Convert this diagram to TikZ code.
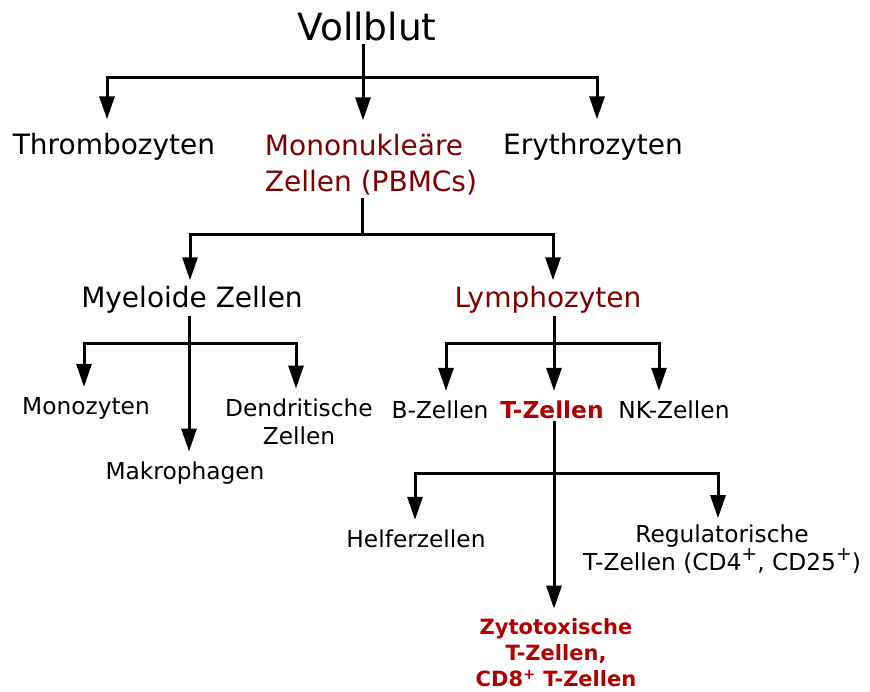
\documentclass[tikz,border=0pt]{standalone}
\usepackage{fontspec}
\setmainfont{DejaVu Sans}
\usetikzlibrary{arrows.meta}
\definecolor{dunkelrot}{RGB}{128,0,0}
\definecolor{hellrot}{RGB}{176,0,0}
\newcommand{\hoch}[1]{\raisebox{0.42em}{\fontsize{19}{19}\selectfont #1}}

\begin{document}
\begin{tikzpicture}[x=1pt,y=-1pt,
		lbl/.style={inner sep=2pt, align=center},
		big/.style={lbl, font=\fontsize{37.5}{40}\selectfont},
		mid/.style={lbl, font=\fontsize{28}{36}\selectfont},
		small/.style={lbl, font=\fontsize{23.3}{28.5}\selectfont},
		tiny/.style={lbl, font=\fontsize{21}{26}\selectfont\bfseries, text=hellrot},
		conn/.style={line width=3pt},
		arr/.style={conn, -{Triangle[length=23pt,width=15pt]}, shorten >=#1},
		arr/.default=8pt]
		\useasboundingbox (0,0) rectangle (870,691);

		\node[big] (blut) at (367,27) {Vollblut};
		\node[mid] (thromb) at (114,147) {Thrombozyten};
		\node[mid, align=left, text=dunkelrot] (pbmc) at (371,165) {Mononukleäre\\Zellen (PBMCs)};
		\node[mid] (ery) at (593,147) {Erythrozyten};

		\node[mid] (myelo) at (192,300) {Myeloide Zellen};
		\node[mid, text=dunkelrot] (lympho) at (548,300) {Lymphozyten};

		\node[small] (mono) at (86,408) {Monozyten};
		\node[small] (dendri) at (299,422) {Dendritische\\Zellen};
		\node[small] (makro) at (185,473) {Makrophagen};
		\node[small] (bz) at (440,410) {B-Zellen};
		\node[small, font=\fontsize{23.3}{28.5}\selectfont\bfseries, text=hellrot] (tz) at (552,410) {T-Zellen};
		\node[small] (nk) at (674,410) {NK-Zellen};

		\node[small] (helfer) at (416,539) {Helferzellen};
		\node[small] (treg) at (722,549) {Regulatorische\\T-Zellen (CD4\hoch{+}, CD25\hoch{+})};
		\node[tiny] (zyto) at (556,653) {Zytotoxische\\T-Zellen,\\CD8\textsuperscript{+} T-Zellen};

		\coordinate (vb) at (363,77);
		\draw[conn] (blut.south -| vb) -- (vb);
		\draw[arr=12pt] (vb) -- (pbmc.north -| vb);
		\draw[arr=12pt] (vb) -| ([xshift=-7pt]thromb.north);
		\draw[arr=12pt] (vb) -| ([xshift=4pt]ery.north);

		\coordinate (pb) at (362,234);
		\draw[conn] (pbmc.south -| pb) -- (pb);
		\draw[arr=4pt] (pb) -| ([xshift=-2pt]myelo.north);
		\draw[arr=4pt] (pb) -| ([xshift=5pt]lympho.north);

		\coordinate (mb) at (189,343);
		\draw[arr] (myelo.south -| mb) -- (makro.north -| mb);
		\draw[arr] (mb) -| ([xshift=-2pt]mono.north);
		\draw[arr] (mb) -| ([xshift=-3pt]dendri.north);

		\coordinate (lb) at (554,343);
		\draw[arr] (lympho.south -| lb) -- (tz.north -| lb);
		\draw[arr] (lb) -| ([xshift=6pt]bz.north);
		\draw[arr] (lb) -| ([xshift=-15pt]nk.north);

		\coordinate (tb) at (554,473);
		\draw[arr] (tz.south -| tb) -- (zyto.north -| tb);
		\draw[arr] (tb) -| ([xshift=-1pt]helfer.north);
		\draw[arr=4pt] (tb) -| ([xshift=-4pt]treg.north);
	\end{tikzpicture}
\end{document}
